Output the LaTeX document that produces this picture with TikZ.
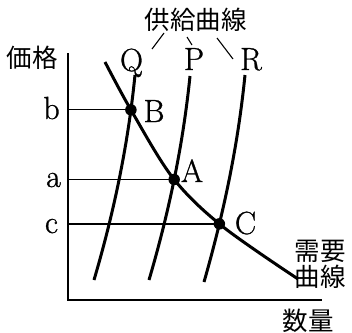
\documentclass[tikz,border=0pt]{standalone}
\usepackage{fontspec}
\newfontfamily\cjk{Noto Sans CJK JP}
\newfontfamily\lat[FakeBold=0.9]{Latin Modern Roman}
\usetikzlibrary{intersections}
\begin{document}
\begin{tikzpicture}[x=1pt,y=-1pt,
  lab/.style={inner sep=0pt,anchor=base,font=\lat\fontsize{32}{32}\selectfont},
  jp/.style={inner sep=0pt,font=\cjk\fontsize{25.5}{25.5}\selectfont},
  curve/.style={line width=3pt},
  guide/.style={line width=1.3pt},
  axis/.style={line width=1.5pt},
  leader/.style={line width=1.1pt},
  dot/.style={circle,fill,inner sep=0pt,minimum size=11.5pt}]
\useasboundingbox (0,0) rectangle (352,332);
% axes
\coordinate (O) at (68,300);
\coordinate (ytop) at (68,53);
\coordinate (xend) at (322,300);
\draw[axis] (ytop) -- (O) -- (xend);
% supply curves
\draw[curve,name path=Q] (135,75) .. controls (128,145) and (114,212) .. (94,280);
\draw[curve,name path=P] (190,76) .. controls (183,145) and (169,212) .. (149,280);
\draw[curve,name path=R] (245,75) .. controls (238,145) and (224,212) .. (204,282);
% demand curve
\draw[curve,name path=D] plot[smooth,tension=0.55] coordinates {(105,62) (131,110) (173,178) (222,226) (298,279)};
% intersections
\path[name intersections={of=D and Q,by=B}];
\path[name intersections={of=D and P,by=A}];
\path[name intersections={of=D and R,by=C}];
\draw[guide] (O |- B) -- (B);
\draw[guide] (O |- A) -- (A);
\draw[guide] (O |- C) -- (C);
\node[dot] (dB) at (B) {};
\node[dot] (dA) at (A) {};
\node[dot] (dC) at (C) {};
% letter labels
\node[lab] (lB) at (154,122) {B};
\node[lab] (lA) at (192,182) {A};
\node[lab] (lC) at (245.5,234) {C};
\node[lab] (lb) at (51.5,119) {b};
\node[lab] (la) at (53.5,187) {a};
\node[lab] (lc) at (51.5,233) {c};
\node[lab] (lQ) at (131.5,71) {Q};
\node[lab] (lP) at (194,70) {P};
\node[lab] (lR) at (251,70) {R};
% Japanese labels
\node[jp] (price) at (32,58) {価格};
\node[jp] (supply) at (195.5,20) {供給曲線};
\node[jp] (dem1) at (320,251) {需要};
\node[jp] (dem2) at (320,276.5) {曲線};
\node[jp] (qty) at (308,320.5) {数量};
% leaders
\coordinate (q1) at (164,33);
\coordinate (q2) at (152,49);
\coordinate (p1) at (187,37);
\coordinate (p2) at (192,45);
\coordinate (r1) at (217,38);
\coordinate (r2) at (233,59);
\draw[leader] (q1) -- (q2);
\draw[leader] (p1) -- (p2);
\draw[leader] (r1) -- (r2);
\end{tikzpicture}
\end{document}
